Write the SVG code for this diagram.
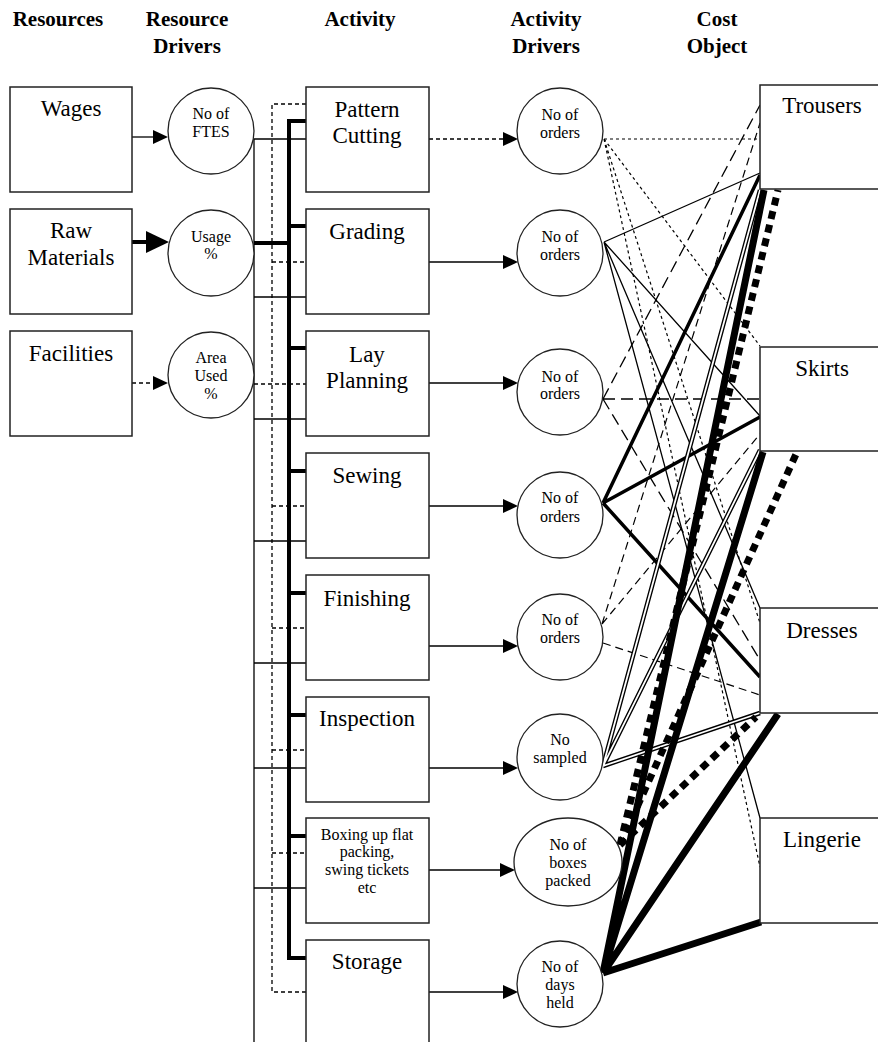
<svg xmlns="http://www.w3.org/2000/svg" width="878" height="1042" viewBox="0 0 878 1042">
<defs>
<marker id="ah" viewBox="0 0 15 14" refX="0" refY="7" markerWidth="15" markerHeight="14" markerUnits="userSpaceOnUse" orient="auto"><path d="M0,0L15,7L0,14z" fill="#000"/></marker>
<marker id="ahb" viewBox="0 0 23 22" refX="0" refY="11" markerWidth="23" markerHeight="22" markerUnits="userSpaceOnUse" orient="auto"><path d="M0,0L23,11L0,22z" fill="#000"/></marker>
</defs>
<style>
.box{fill:#fff;stroke:#222;stroke-width:1.5}
.circ{fill:#fff;stroke:#222;stroke-width:1.3}
text{font-family:"Liberation Serif","Times New Roman",serif;text-anchor:middle;fill:#000}
.hdr{font-weight:bold;font-size:21px}
.lbl{font-size:23px}
.act{font-size:23px}
.sm{font-size:16px}
.thin{stroke:#000;stroke-width:1.3;fill:none}
.thick{stroke:#000;stroke-width:4;fill:none}
.dash{stroke:#000;stroke-width:1.3;stroke-dasharray:4 3;fill:none}
.dot{stroke:#000;stroke-width:1.2;stroke-dasharray:3 3;fill:none}
.ldash{stroke:#000;stroke-width:1.3;stroke-dasharray:12 6;fill:none}
.mdash{stroke:#000;stroke-width:1.2;stroke-dasharray:8 5;fill:none}
.bold{stroke:#000;stroke-width:3.5;fill:none}
.dbl{stroke:#000;stroke-width:4.5;fill:none}
.dblw{stroke:#fff;stroke-width:1.8;fill:none}
.tdot{stroke:#000;stroke-width:7;stroke-dasharray:8 6;fill:none}
.heavy{stroke:#000;stroke-width:7;fill:none}
</style>

<g id="headers">
<text class="hdr" x="58" y="26">Resources</text>
<text class="hdr" x="187" y="26">Resource</text>
<text class="hdr" x="187" y="53">Drivers</text>
<text class="hdr" x="360" y="26">Activity</text>
<text class="hdr" x="546" y="26">Activity</text>
<text class="hdr" x="546" y="53">Drivers</text>
<text class="hdr" x="717" y="26">Cost</text>
<text class="hdr" x="717" y="53">Object</text>
</g>

<g id="connectors">
<line class="thin" x1="132" y1="137" x2="153" y2="137" marker-end="url(#ah)"/>
<line class="thick" x1="132" y1="242" x2="146" y2="242" marker-end="url(#ahb)"/>
<line class="dash" x1="132" y1="383" x2="153" y2="383" marker-end="url(#ah)"/>
<path class="thin" d="M254,139H306M254,139V1042M254,297H306M254,419H306M254,541H306M254,663H306M254,768H306M254,888H306"/>
<path class="thick" d="M306,121H289V958H306M254,243H289M289,226H306M289,348H306M289,471H306M289,593H306M289,715H306M289,836H306"/>
<path class="dash" d="M306,104H272V992H306M254,384H306M272,262H306M272,506H306M272,628H306M272,750H306M272,853H306"/>
<line class="dash" x1="429" y1="139" x2="503" y2="139" marker-end="url(#ah)"/>
<line class="thin" x1="429" y1="262" x2="503" y2="262" marker-end="url(#ah)"/>
<line class="thin" x1="429" y1="383" x2="503" y2="383" marker-end="url(#ah)"/>
<line class="thin" x1="429" y1="506" x2="503" y2="506" marker-end="url(#ah)"/>
<line class="thin" x1="429" y1="646" x2="503" y2="646" marker-end="url(#ah)"/>
<line class="thin" x1="429" y1="768" x2="503" y2="768" marker-end="url(#ah)"/>
<line class="thin" x1="429" y1="870" x2="500" y2="870" marker-end="url(#ah)"/>
<line class="thin" x1="429" y1="992" x2="503" y2="992" marker-end="url(#ah)"/>
<path class="dot" d="M604,139L760,139M604,139L760,346M604,139L760,623M604,139L760,867"/>
<path class="thin" d="M604,242L760,173M604,242L760,416M604,242L760,608M604,242L760,818"/>
<path class="ldash" d="M603,399L760,105M603,399L760,399M603,399L760,660"/>
<path class="bold" d="M603,503L760,175M603,503L760,417M603,503L760,677"/>
<path class="mdash" d="M602,624L760,123M602,624L760,434M603,643L760,695"/>
<path class="dbl" d="M603,766L760,190M603,766L760,450M603,766L760,713"/>
<path class="dblw" d="M603,766L760,190M603,766L760,450M603,766L760,713"/>
<path class="tdot" d="M620,845L778,190M620,845L797,452M620,845L756,717"/>
<path class="heavy" d="M603,973L764,190M603,973L763,452M603,973L778,714M603,973L761,922"/>
</g>

<g id="resources">
<g id="wages"><rect class="box" x="10" y="87" width="122" height="105"/><text class="lbl" x="71" y="116">Wages</text></g>
<g id="raw-materials"><rect class="box" x="10" y="209" width="122" height="105"/><text class="lbl" x="71" y="238">Raw</text><text class="lbl" x="71" y="265">Materials</text></g>
<g id="facilities"><rect class="box" x="10" y="331" width="122" height="105"/><text class="lbl" x="71" y="361">Facilities</text></g>
</g>

<g id="resource-drivers">
<g id="no-of-ftes"><circle class="circ" cx="211" cy="131" r="43"/><text class="sm" x="211" y="119">No of</text><text class="sm" x="211" y="137">FTES</text></g>
<g id="usage"><circle class="circ" cx="211" cy="253" r="43"/><text class="sm" x="211" y="242">Usage</text><text class="sm" x="211" y="259">%</text></g>
<g id="area-used"><circle class="circ" cx="211" cy="375" r="43"/><text class="sm" x="211" y="363">Area</text><text class="sm" x="211" y="381">Used</text><text class="sm" x="211" y="399">%</text></g>
</g>

<g id="activities">
<g id="pattern-cutting"><rect class="box" x="306" y="87" width="123" height="105"/><text class="act" x="367" y="117">Pattern</text><text class="act" x="367" y="143">Cutting</text></g>
<g id="grading"><rect class="box" x="306" y="209" width="123" height="105"/><text class="act" x="367" y="239">Grading</text></g>
<g id="lay-planning"><rect class="box" x="306" y="331" width="123" height="105"/><text class="act" x="367" y="362">Lay</text><text class="act" x="367" y="388">Planning</text></g>
<g id="sewing"><rect class="box" x="306" y="453" width="123" height="105"/><text class="act" x="367" y="483">Sewing</text></g>
<g id="finishing"><rect class="box" x="306" y="575" width="123" height="105"/><text class="act" x="367" y="606">Finishing</text></g>
<g id="inspection"><rect class="box" x="306" y="697" width="123" height="105"/><text class="act" x="367" y="726">Inspection</text></g>
<g id="boxing"><rect class="box" x="306" y="818" width="123" height="105"/><text class="sm" x="367" y="840">Boxing up flat</text><text class="sm" x="367" y="857">packing,</text><text class="sm" x="367" y="875">swing tickets</text><text class="sm" x="367" y="893">etc</text></g>
<g id="storage"><rect class="box" x="306" y="940" width="123" height="120"/><text class="act" x="367" y="969">Storage</text></g>
</g>

<g id="activity-drivers">
<g id="ad-pattern"><circle class="circ" cx="560" cy="131" r="43"/><text class="sm" x="560" y="120">No of</text><text class="sm" x="560" y="138">orders</text></g>
<g id="ad-grading"><circle class="circ" cx="560" cy="253" r="43"/><text class="sm" x="560" y="242">No of</text><text class="sm" x="560" y="260">orders</text></g>
<g id="ad-lay"><circle class="circ" cx="560" cy="392" r="43"/><text class="sm" x="560" y="382">No of</text><text class="sm" x="560" y="399">orders</text></g>
<g id="ad-sewing"><circle class="circ" cx="560" cy="515" r="43"/><text class="sm" x="560" y="503">No of</text><text class="sm" x="560" y="522">orders</text></g>
<g id="ad-finishing"><circle class="circ" cx="560" cy="637" r="43"/><text class="sm" x="560" y="625">No of</text><text class="sm" x="560" y="643">orders</text></g>
<g id="ad-inspection"><circle class="circ" cx="560" cy="757" r="43"/><text class="sm" x="560" y="745">No</text><text class="sm" x="560" y="763">sampled</text></g>
<g id="ad-boxing"><ellipse class="circ" cx="568" cy="862" rx="54" ry="44"/><text class="sm" x="568" y="850">No of</text><text class="sm" x="568" y="868">boxes</text><text class="sm" x="568" y="886">packed</text></g>
<g id="ad-storage"><circle class="circ" cx="560" cy="984" r="43"/><text class="sm" x="560" y="972">No of</text><text class="sm" x="560" y="990">days</text><text class="sm" x="560" y="1008">held</text></g>
</g>

<g id="cost-objects">
<g id="trousers"><rect class="box" x="760" y="85" width="130" height="104"/><text class="act" x="822" y="113">Trousers</text></g>
<g id="skirts"><rect class="box" x="760" y="347" width="130" height="104"/><text class="act" x="822" y="376">Skirts</text></g>
<g id="dresses"><rect class="box" x="760" y="608" width="130" height="105"/><text class="act" x="822" y="638">Dresses</text></g>
<g id="lingerie"><rect class="box" x="760" y="818" width="130" height="105"/><text class="act" x="822" y="847">Lingerie</text></g>
</g>
</svg>
